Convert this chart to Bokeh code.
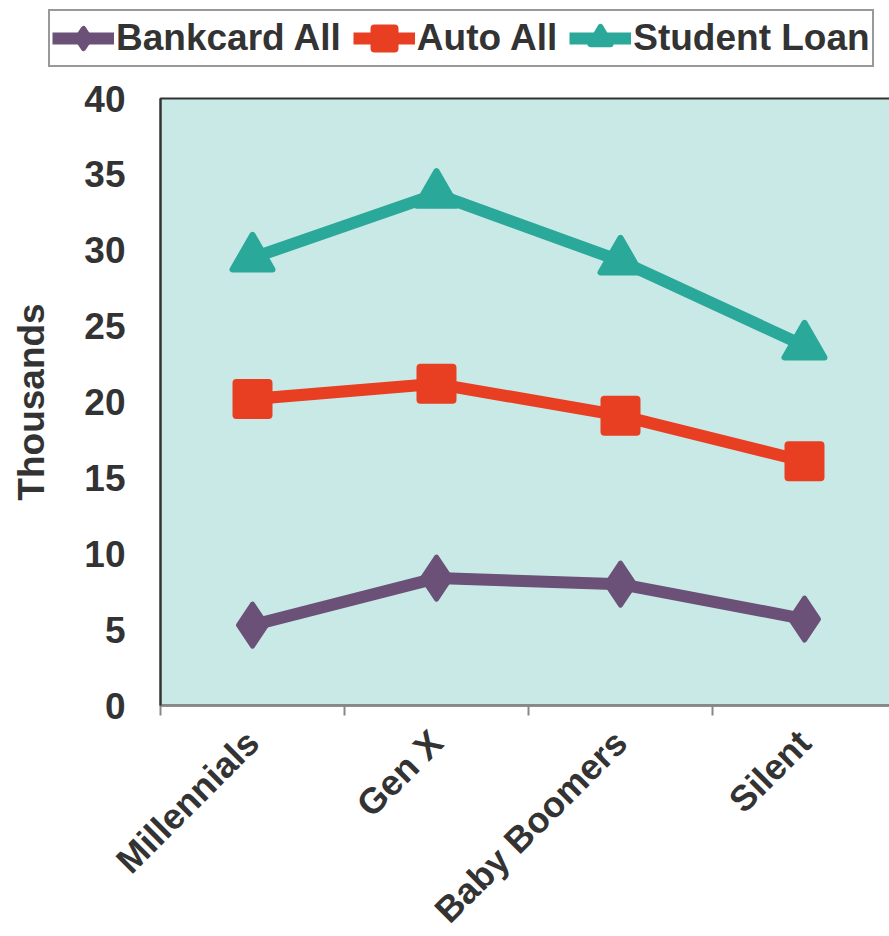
from bokeh.plotting import figure
from bokeh.models import FixedTicker, Legend, LegendItem, Range1d
from bokeh.embed import file_html
from bokeh.resources import INLINE
import math

categories = ["Millennials", "Gen X", "Baby Boomers", "Silent"]
bankcard = [5.3, 8.4, 8.0, 5.7]
auto = [20.2, 21.2, 19.1, 16.1]
student = [29.5, 33.7, 29.3, 23.7]
y_ticks = [0, 5, 10, 15, 20, 25, 30, 35, 40]
series_names = ["Bankcard All", "Auto All", "Student Loan"]

FONT = "Liberation Sans"
TXT = "#333333"
COLORS = ["#6b5077", "#e83e22", "#2aa89a"]
MARKERS = ["diamond", "square", "triangle"]
MSIZE = [42, 32, 40]
MLW = [5, 8, 6]

xs = list(range(len(categories)))
x_lo, x_hi = -0.5, len(categories) - 0.5
y_lo, y_hi = y_ticks[0], y_ticks[-1]

# The frame fills the whole canvas; the plotting area is a shaded box,
# and the axes are pinned to its edges so nothing gets clipped.
p = figure(width=889, height=936, output_backend="svg", toolbar_location=None,
           x_range=Range1d(-1.3696, 3.462), y_range=Range1d(-15.22, 46.46),
           min_border_left=0, min_border_right=0, min_border_top=0,
           min_border_bottom=0)
p.background_fill_color = "white"
p.border_fill_color = "white"
p.outline_line_color = None
p.grid.visible = False

p.quad(left=[x_lo], right=[x_hi + 0.2], bottom=[y_lo], top=[y_hi],
       fill_color="#c8e9e6", line_color="#333333", line_width=2, level="underlay")

items = []
for name, vals, c, m, s, lw in zip(series_names, [bankcard, auto, student],
                                    COLORS, MARKERS, MSIZE, MLW):
    rl = p.line(xs, vals, line_color=c, line_width=12, line_join="round")
    rm = p.scatter(xs, vals, marker=m, size=s, fill_color=c, line_color=c,
                   line_width=lw, line_join="round")
    items.append(LegendItem(label=name, renderers=[rl, rm]))

# y axis
p.yaxis.fixed_location = x_lo
p.yaxis.bounds = (y_lo, y_hi)
p.yaxis.ticker = FixedTicker(ticks=y_ticks)
p.yaxis.axis_label = "Thousands"
p.yaxis.axis_label_text_font = FONT
p.yaxis.axis_label_text_font_style = "bold"
p.yaxis.axis_label_text_font_size = "37px"
p.yaxis.axis_label_text_color = TXT
p.yaxis.major_label_text_font = FONT
p.yaxis.major_label_text_font_style = "bold"
p.yaxis.major_label_text_font_size = "37px"
p.yaxis.major_label_text_color = TXT
p.yaxis.major_tick_line_color = None
p.yaxis.minor_tick_line_color = None
p.yaxis.axis_line_color = "#333333"
p.yaxis.axis_line_width = 2
p.yaxis.major_label_standoff = 29
p.yaxis.axis_label_standoff = 29

# x axis
p.xaxis.fixed_location = y_lo
p.xaxis.bounds = (x_lo, 3.462)
p.xaxis.ticker = FixedTicker(ticks=xs, minor_ticks=[x_lo + i for i in range(len(categories) + 1)])
p.xaxis.major_label_overrides = {i: c for i, c in enumerate(categories)}
p.xaxis.major_label_orientation = math.pi / 4
p.xaxis.major_label_text_font = FONT
p.xaxis.major_label_text_font_style = "bold"
p.xaxis.major_label_text_font_size = "36px"
p.xaxis.major_label_text_color = TXT
p.xaxis.major_tick_line_color = None
p.xaxis.minor_tick_line_color = "#888888"
p.xaxis.minor_tick_line_width = 2
p.xaxis.minor_tick_in = 0
p.xaxis.minor_tick_out = 10
p.xaxis.axis_line_color = "#888888"
p.xaxis.axis_line_width = 2
p.xaxis.major_label_standoff = 21

legend = Legend(items=items, location=(48, 869), orientation="horizontal")
legend.label_text_font = FONT
legend.label_text_font_style = "bold"
legend.label_text_font_size = "37px"
legend.label_text_color = TXT
legend.glyph_width = 62
legend.glyph_height = 50
legend.label_standoff = 2
legend.spacing = 12
legend.padding = 2
legend.margin = 0
legend.border_line_color = "#333333"
legend.border_line_width = 2
legend.background_fill_color = "white"
legend.background_fill_alpha = 1
p.add_layout(legend, "center")

open("out.html", "w").write(file_html(p, INLINE))
